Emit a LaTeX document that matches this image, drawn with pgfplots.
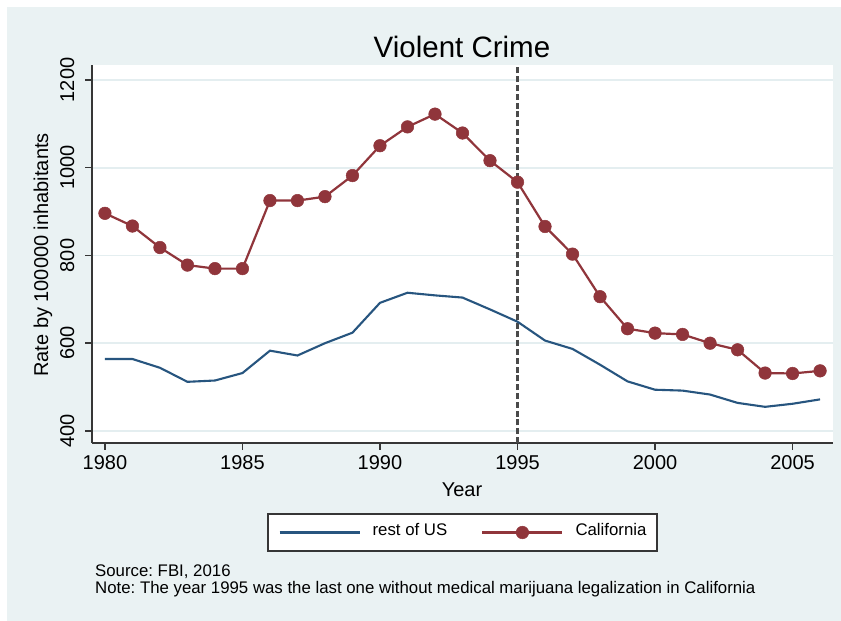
\documentclass[border=0pt]{standalone}
\usepackage{fontspec}
\setmainfont{Liberation Sans}
\usepackage{pgfplots}
\pgfplotsset{compat=1.18}
\frenchspacing

\definecolor{panel}{HTML}{EAF2F3}
\definecolor{gridc}{HTML}{E4EEF0}
\definecolor{snavy}{HTML}{27557F}
\definecolor{smaroon}{HTML}{90353B}
\definecolor{axisc}{HTML}{363636}
\definecolor{refline}{HTML}{4A4A4A}

\begin{document}
\begin{tikzpicture}[x=1pt,y=1pt]
  \useasboundingbox (0,0) rectangle (841,621);
  \fill[white] (0,0) rectangle (841,621);
  \fill[panel] (7,0) rectangle (841,614);

  % title and axis titles
  \node[font=\fontsize{29.5}{34}\selectfont] at (462,574) {Violent Crime};
  \node[font=\fontsize{20}{24}\selectfont, rotate=90] at (43,366) {Rate by 100000 inhabitants};
  \node[font=\fontsize{20}{24}\selectfont] at (462,131) {Year};

  \begin{axis}[
    at={(92pt,178pt)}, anchor=south west,
    scale only axis, width=741pt, height=378pt,
    xmin=1979.53, xmax=2006.47, ymin=372.6, ymax=1234,
    axis background/.style={fill=white},
    axis lines*=left,
    axis line style={-, axisc, line width=2pt},
    every tick/.style={axisc, line width=1.6pt},
    tick align=outside, major tick length=7pt,
    xtick={1980,1985,...,2005},
    ytick={400,600,...,1200},
    ymajorgrids, grid style={gridc, line width=1.8pt},
    /pgf/number format/assume math mode=true,
    /pgf/number format/set thousands separator={},
    tick label style={font=\fontsize{20}{24}\selectfont},
    xticklabel style={yshift=-2pt},
    yticklabel shift=4pt,
    yticklabel style={rotate=90, anchor=south, inner xsep=0pt, inner ysep=6.5pt},
    clip=false,
    legend style={at={(0.5,-0.2368)}, anchor=center,
      draw=axisc, line width=2pt, fill=white,
      font=\fontsize{16.8}{20}\selectfont,
      nodes={inner sep=0pt, text height=0.74em, text depth=0.22em},
      legend columns=2, inner xsep=11pt, inner ysep=12.5pt,
      /tikz/every odd column/.append style={column sep=12pt},
      /tikz/every even column/.append style={column sep=34pt}},
    legend cell align=left,
    legend image code/.code={
      \draw[mark repeat=2, mark phase=2, #1]
        plot coordinates {(0pt,0pt) (40pt,0pt) (80pt,0pt)};
    },
  ]
    % 1995 reference line
    \addplot[forget plot, refline, line width=2.1pt, dash pattern=on 6pt off 2.8pt]
      coordinates {(1995,372.6) (1995,1234)};

    \addplot[snavy, line width=2.1pt, no markers] coordinates {
      (1980,564) (1981,564) (1982,544) (1983,512) (1984,515) (1985,532)
      (1986,583) (1987,572) (1988,600) (1989,624) (1990,692) (1991,715)
      (1992,709) (1993,704) (1994,677) (1995,649) (1996,606) (1997,587)
      (1998,551) (1999,513) (2000,494) (2001,492) (2002,483) (2003,464)
      (2004,455) (2005,462) (2006,472)
    };
    \addlegendentry{rest of US}

    \addplot[smaroon, line width=2.2pt, mark=*, mark size=6.3pt,
             mark options={fill=smaroon, draw=smaroon, line width=0.5pt}] coordinates {
      (1980,896) (1981,867) (1982,818) (1983,778) (1984,770) (1985,770)
      (1986,925) (1987,925) (1988,934) (1989,982) (1990,1050) (1991,1093)
      (1992,1122) (1993,1079) (1994,1016) (1995,967) (1996,866) (1997,803)
      (1998,706) (1999,633) (2000,623) (2001,620) (2002,600) (2003,585)
      (2004,532) (2005,531) (2006,537)
    };
    \addlegendentry{California}
  \end{axis}

  % source notes
  \node[anchor=west, inner sep=0pt, font=\fontsize{16.8}{20}\selectfont] at (95,49) {Source: FBI, 2016};
  \node[anchor=west, inner sep=0pt, font=\fontsize{16.8}{20}\selectfont] at (95,32)
    {Note: The year 1995 was the last one without medical marijuana legalization in California};
\end{tikzpicture}
\end{document}
